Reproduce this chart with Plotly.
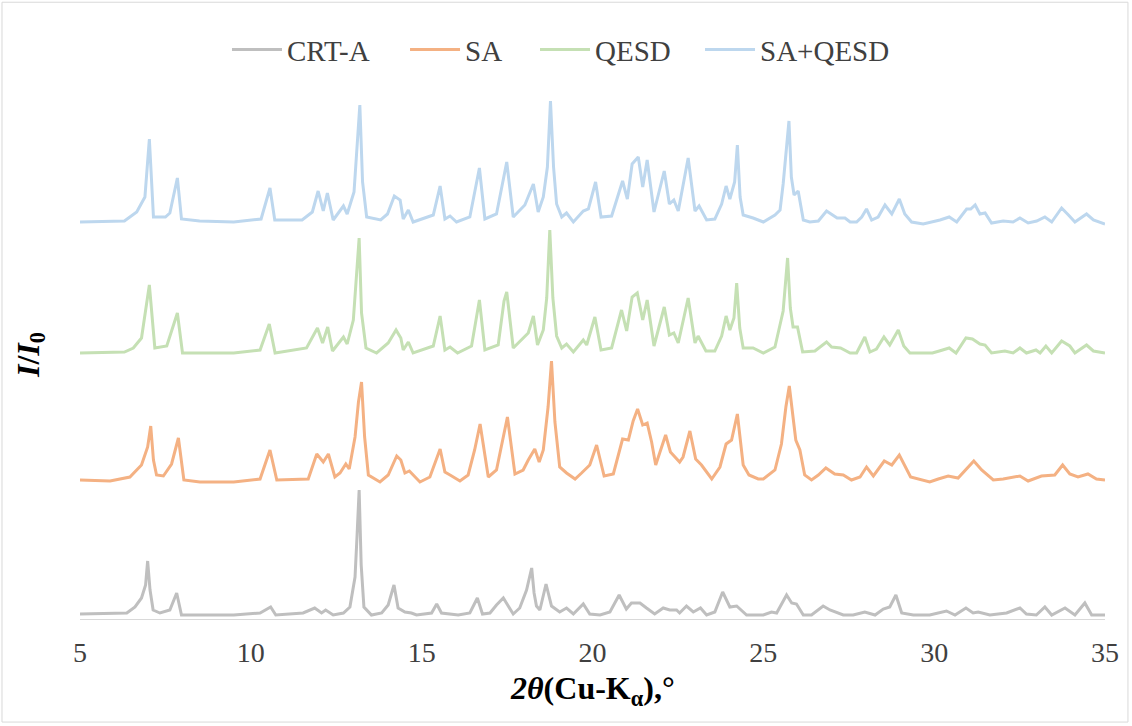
import plotly.graph_objects as go

# 2theta positions (deg) and intensities (relative to each pattern's own baseline)
crt_x = [5.0, 6.37, 6.61, 6.80, 6.92, 6.98, 7.05, 7.14, 7.34, 7.63, 7.83, 7.97, 9.5, 10.27,
         10.58, 10.73, 11.53, 11.87, 12.07, 12.19, 12.41, 12.71, 12.90, 13.05, 13.11, 13.17,
         13.23, 13.31, 13.53, 13.83, 14.02, 14.19, 14.31, 14.51, 14.70, 14.85, 15.29, 15.44,
         15.58, 15.83, 16.07, 16.41, 16.63, 16.78, 17.0, 17.19, 17.39, 17.68, 17.87, 18.07,
         18.22, 18.29, 18.36, 18.46, 18.64, 18.80, 19.04, 19.24, 19.44, 19.73, 19.92, 20.22,
         20.51, 20.78, 20.99, 21.14, 21.39, 21.58, 21.82, 22.07, 22.26, 22.46, 22.55, 22.75,
         22.95, 23.16, 23.34, 23.58, 23.81, 24.02, 24.22, 24.51, 25.0, 25.24, 25.39, 25.68,
         25.83, 25.97, 26.17, 26.41, 26.75, 26.95, 27.34, 27.63, 27.97, 28.27, 28.51, 28.70,
         28.88, 29.05, 29.39, 29.87, 30.36, 30.61, 30.93, 31.14, 31.29, 31.63, 32.12, 32.51,
         32.70, 32.99, 33.24, 33.44, 33.83, 34.12, 34.41, 34.61, 35.0]
crt_i = [1, 2, 8, 17, 30, 54, 25, 5, 2, 5, 22, 0, 0, 2,
         8, 0, 2, 7, 2, 5, 0, 2, 8, 38, 80, 125,
         50, 8, 0, 2, 10, 30, 7, 3, 2, 0, 2, 11,
         2, 1, 0, 2, 17, 1, 2, 10, 17, 1, 7, 25,
         47, 22, 9, 5, 31, 9, 3, 7, 1, 11, 1, 0,
         3, 20, 6, 12, 12, 7, 1, 7, 5, 5, 2, 9,
         3, 7, 0, 3, 23, 8, 9, 0, 0, 3, 2, 20,
         12, 11, 0, 0, 9, 5, 0, 0, 3, 0, 6, 8,
         20, 2, 0, 0, 4, 0, 7, 2, 3, 0, 2, 7,
         1, 0, 8, 0, 7, 0, 12, 0, 0]

sa_x = [5.0, 5.88, 6.46, 6.80, 6.98, 7.07, 7.15, 7.24, 7.44, 7.68, 7.88, 8.04, 8.51, 9.5,
        10.27, 10.56, 10.76, 11.68, 11.93, 12.12, 12.27, 12.46, 12.61, 12.78, 12.88, 13.05,
        13.15, 13.24, 13.33, 13.44, 13.78, 14.02, 14.27, 14.39, 14.51, 14.64, 14.95, 15.24,
        15.54, 15.68, 15.83, 16.12, 16.36, 16.55, 16.71, 16.95, 17.19, 17.51, 17.73, 17.97,
        18.12, 18.31, 18.44, 18.56, 18.70, 18.80, 18.90, 19.04, 19.24, 19.49, 19.68, 19.92,
        20.12, 20.34, 20.61, 20.88, 21.05, 21.19, 21.32, 21.47, 21.60, 21.73, 21.85, 22.14,
        22.28, 22.55, 22.65, 22.85, 23.02, 23.19, 23.49, 23.73, 23.91, 24.07, 24.24, 24.41,
        24.58, 24.85, 25.0, 25.34, 25.53, 25.66, 25.76, 25.85, 25.95, 26.07, 26.21, 26.41,
        26.61, 26.83, 27.09, 27.34, 27.58, 27.83, 28.02, 28.22, 28.54, 28.76, 28.98, 29.31,
        29.63, 29.87, 30.12, 30.41, 30.70, 30.95, 31.16, 31.39, 31.73, 32.02, 32.51, 32.75,
        33.14, 33.53, 33.76, 33.97, 34.21, 34.50, 34.75, 35.0]
sa_i = [2, 1, 5, 17, 35, 56, 22, 7, 6, 18, 44, 2, 0, 0,
        3, 32, 2, 3, 28, 20, 28, 5, 9, 18, 13, 45,
        80, 100, 45, 7, 0, 7, 26, 22, 9, 11, 0, 5,
        33, 10, 7, 1, 7, 32, 58, 5, 12, 65, 8, 12,
        22, 33, 20, 32, 75, 121, 60, 15, 9, 3, 9, 17,
        37, 6, 8, 43, 42, 61, 73, 57, 59, 40, 17, 47,
        30, 20, 25, 51, 23, 17, 3, 15, 38, 42, 68, 17,
        7, 3, 3, 12, 38, 75, 96, 70, 42, 32, 7, 2,
        7, 14, 8, 7, 2, 5, 15, 6, 21, 17, 27, 5,
        2, 0, 3, 6, 4, 13, 21, 12, 2, 3, 6, 1,
        6, 7, 17, 8, 5, 8, 3, 2]

qesd_x = [5.0, 6.3, 6.56, 6.80, 7.03, 7.19, 7.54, 7.85, 8.0, 9.5, 10.27, 10.54, 10.71, 11.63,
          11.95, 12.10, 12.25, 12.39, 12.71, 12.82, 13.0, 13.17, 13.24, 13.37, 13.68, 14.02,
          14.25, 14.39, 14.46, 14.61, 14.75, 15.34, 15.54, 15.68, 15.83, 16.05, 16.46, 16.69,
          16.85, 17.24, 17.41, 17.49, 17.68, 18.02, 18.12, 18.27, 18.39, 18.56, 18.66, 18.75,
          18.84, 18.95, 19.10, 19.24, 19.44, 19.73, 19.83, 20.07, 20.25, 20.56, 20.85, 21.0,
          21.16, 21.31, 21.47, 21.60, 21.80, 22.10, 22.25, 22.38, 22.51, 22.80, 23.0, 23.09,
          23.32, 23.58, 23.78, 23.91, 24.02, 24.14, 24.22, 24.31, 24.41, 24.70, 25.0, 25.34,
          25.58, 25.71, 25.79, 25.87, 26.0, 26.15, 26.51, 26.85, 27.0, 27.26, 27.54, 27.73,
          27.97, 28.12, 28.31, 28.53, 28.70, 28.95, 29.11, 29.29, 29.68, 29.95, 30.15, 30.44,
          30.64, 30.93, 31.12, 31.34, 31.49, 31.68, 32.07, 32.31, 32.51, 32.70, 32.98, 33.1,
          33.27, 33.44, 33.73, 33.97, 34.12, 34.46, 34.66, 35.0]
qesd_i = [0, 1, 5, 15, 68, 5, 7, 40, 0, 0, 3, 29, 0, 5,
          25, 10, 26, 2, 16, 9, 33, 115, 40, 5, 0, 10,
          23, 15, 3, 11, 0, 7, 37, 3, 6, 0, 7, 53,
          3, 8, 52, 61, 5, 17, 20, 37, 8, 23, 55, 123,
          55, 17, 5, 9, 1, 13, 8, 36, 3, 5, 43, 22,
          56, 60, 33, 53, 7, 46, 18, 20, 10, 55, 10, 17,
          2, 2, 17, 37, 23, 35, 70, 25, 5, 5, 0, 6,
          42, 95, 45, 26, 26, 1, 2, 11, 6, 5, 0, 0,
          16, 1, 4, 16, 8, 23, 7, 0, 0, 0, 2, 5,
          0, 15, 14, 9, 8, 0, 2, 0, 5, 0, 3, 0,
          7, 0, 12, 7, 0, 8, 2, 0]

mix_x = [5.0, 6.3, 6.66, 6.9, 7.03, 7.15, 7.5, 7.63, 7.85, 7.97, 8.5, 9.5, 10.3, 10.56, 10.7,
         11.5, 11.8, 11.97, 12.12, 12.24, 12.41, 12.71, 12.82, 13.02, 13.19, 13.27, 13.39, 13.8,
         14.0, 14.2, 14.37, 14.46, 14.61, 14.75, 15.34, 15.54, 15.68, 15.83, 16.02, 16.41,
         16.69, 16.85, 17.19, 17.49, 17.68, 18.02, 18.27, 18.41, 18.56, 18.68, 18.77, 18.86,
         18.95, 19.10, 19.24, 19.44, 19.73, 19.88, 20.09, 20.25, 20.56, 20.88, 21.02, 21.16,
         21.34, 21.47, 21.60, 21.80, 22.10, 22.25, 22.38, 22.51, 22.80, 23.00, 23.12, 23.34,
         23.58, 23.78, 23.91, 24.02, 24.16, 24.24, 24.32, 24.41, 24.70, 25.0, 25.34, 25.49,
         25.58, 25.75, 25.82, 25.90, 26.02, 26.17, 26.36, 26.61, 26.85, 26.95, 27.16, 27.39,
         27.54, 27.73, 27.88, 28.02, 28.17, 28.36, 28.56, 28.76, 28.98, 29.14, 29.34, 29.68,
         29.97, 30.17, 30.44, 30.66, 30.95, 31.07, 31.20, 31.34, 31.49, 31.68, 32.02, 32.31,
         32.51, 32.75, 33.0, 33.24, 33.44, 33.73, 33.93, 34.12, 34.46, 34.66, 35.0]
mix_i = [0, 1, 10, 25, 83, 5, 5, 9, 44, 3, 1, 0, 3, 34, 2,
         2, 10, 31, 11, 29, 2, 16, 8, 30, 117, 40, 5, 2,
         8, 26, 22, 3, 12, 0, 7, 36, 3, 6, 0, 5,
         54, 3, 8, 60, 5, 17, 38, 10, 25, 55, 121, 55,
         18, 5, 9, 0, 11, 13, 40, 5, 6, 41, 23, 58,
         65, 35, 62, 10, 51, 18, 22, 11, 64, 11, 16, 2,
         3, 18, 36, 23, 40, 77, 25, 7, 4, 0, 7, 12,
         38, 101, 45, 27, 31, 2, 0, 1, 11, 9, 4, 4,
         0, 0, 5, 13, 2, 5, 17, 8, 23, 8, 0, -2,
         0, 2, 5, 0, 13, 13, 17, 8, 9, -1, 1, 0,
         4, -1, 1, 5, 0, 14, 7, 0, 8, 2, -2]

names = ["CRT-A", "SA", "QESD", "SA+QESD"]
offsets = [4, 137, 266, 397]
colors = ["#BFBFBF", "#F4B183", "#C5E0B4", "#BDD7EE"]
series = [(crt_x, crt_i), (sa_x, sa_i), (qesd_x, qesd_i), (mix_x, mix_i)]

# one legend per series so each entry sits where the Excel legend put it
legend_ids = ["legend", "legend2", "legend3", "legend4"]
legend_x = [0.1434, 0.3171, 0.4439, 0.6049]

fig = go.Figure()
for (xs, ys), name, off, col, lg in zip(series, names, offsets, colors, legend_ids):
    fig.add_trace(go.Scatter(
        x=xs, y=[v + off for v in ys],
        mode="lines", name=name,
        line=dict(color=col, width=3),
        legend=lg
    ))

serif = "Liberation Serif, Times New Roman, serif"

fig.update_xaxes(
    range=[5, 35], tickvals=[5, 10, 15, 20, 25, 30, 35],
    showline=True, linecolor="#D9D9D9", linewidth=1,
    showgrid=False, zeroline=False, ticks="",
    ticklabelstandoff=8,
    tickfont=dict(family=serif, size=28, color="#404040")
)
fig.update_yaxes(
    range=[0, 534], showticklabels=False, showgrid=False,
    zeroline=False, showline=False
)

legend_style = dict(
    orientation="h", xanchor="left", y=1.066, yanchor="middle",
    font=dict(family=serif, size=29, color="#404040"),
    itemwidth=50, bgcolor="rgba(0,0,0,0)"
)
legends = {lg: dict(legend_style, x=lx) for lg, lx in zip(legend_ids, legend_x)}

fig.update_layout(
    width=1132, height=726,
    margin=dict(l=80, r=27, t=85, b=107),
    paper_bgcolor="white", plot_bgcolor="white",
    font=dict(family=serif, size=28, color="#404040"),
    showlegend=True,
    annotations=[
        dict(xref="paper", yref="paper", x=0.5, y=-0.133,
             text="<b><i>2θ</i>(Cu-K<sub>α</sub>),°</b>", showarrow=False,
             font=dict(family=serif, size=32, color="black"),
             xanchor="center", yanchor="middle"),
        dict(xref="paper", yref="paper", x=-0.049, y=0.494,
             text="<b><i>I</i>/<i>I</i><sub>0</sub></b>", showarrow=False,
             textangle=-90,
             font=dict(family=serif, size=32, color="black"),
             xanchor="center", yanchor="middle")
    ],
    shapes=[dict(type="rect", xref="paper", yref="paper",
                 x0=-0.0761, x1=1.0224, y0=-0.193, y1=1.155,
                 line=dict(color="#D9D9D9", width=1))],
    **legends
)

fig.write_html("out.html", config={"displayModeBar": False},
               post_script="document.body.style.margin='0';")
